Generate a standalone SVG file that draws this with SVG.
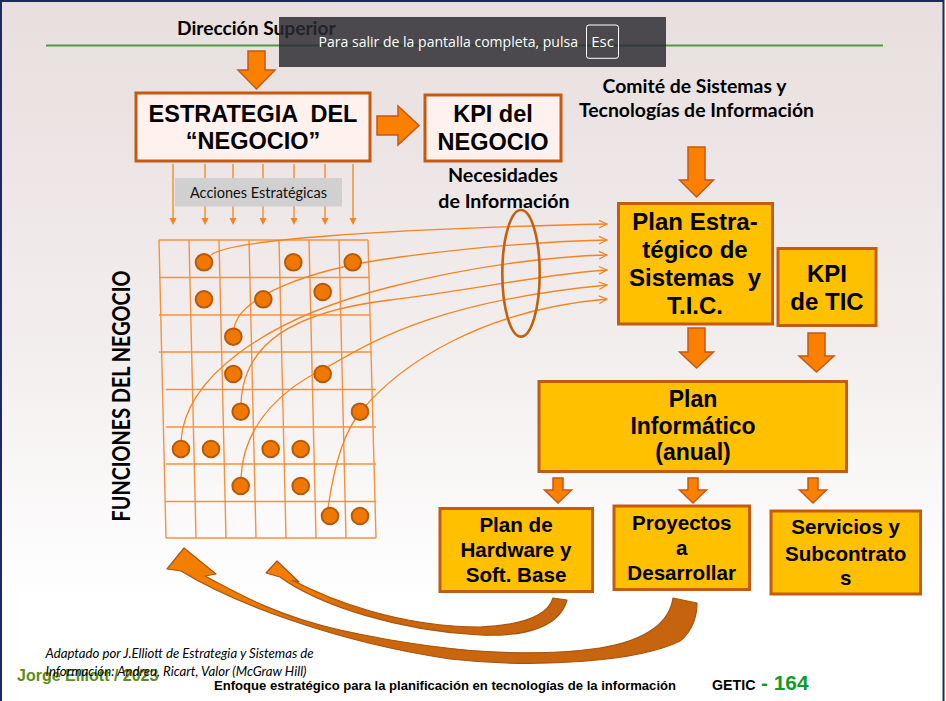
<svg xmlns="http://www.w3.org/2000/svg" width="946" height="701" viewBox="0 0 946 701">
  <defs>
    <linearGradient id="bg" x1="0" y1="0" x2="0" y2="1">
      <stop offset="0" stop-color="#e8dede"/>
      <stop offset="0.5" stop-color="#f3eeee"/>
      <stop offset="0.86" stop-color="#ffffff"/>
      <stop offset="1" stop-color="#ffffff"/>
    </linearGradient>
    <linearGradient id="sweep" x1="0" y1="0" x2="1" y2="0">
      <stop offset="0" stop-color="#f57f00"/>
      <stop offset="0.16" stop-color="#ee7a04"/>
      <stop offset="0.3" stop-color="#cc680e"/>
      <stop offset="1" stop-color="#c6630e"/>
    </linearGradient>
    <marker id="chev" markerUnits="userSpaceOnUse" markerWidth="12" markerHeight="12" refX="8" refY="4" orient="auto" overflow="visible">
      <path d="M0,0.2 L8,4 L0,7.8" fill="none" stroke="#f5841f" stroke-width="1.2"/>
    </marker>
    <marker id="tri" markerUnits="userSpaceOnUse" markerWidth="8" markerHeight="8" refX="0" refY="3.5" orient="auto" overflow="visible">
      <path d="M0,0 L7,3.5 L0,7 Z" fill="#f5841f"/>
    </marker>
    <style>
      .box { fill: #ffc000; stroke: #c55a11; stroke-width: 3; }
      .pale { fill: #fff1ee; stroke: #c55a11; stroke-width: 3; }
      .blk { fill: #fb8000; stroke: #c55a11; stroke-width: 1.5; stroke-linejoin: miter; }
      .bt { font-family: "Liberation Sans", Arial, sans-serif; font-weight: bold; fill: #000; text-anchor: middle; white-space: pre; }
      .lbl { font-family: Lato, "Open Sans", sans-serif; font-weight: bold; fill: #000; text-anchor: middle; }
      .grid { fill: none; stroke: #f7913d; stroke-width: 1.4; }
      .dot { fill: #f07800; stroke: #b45a0a; stroke-width: 2; }
      .flow { fill: none; stroke: #f5841f; stroke-width: 1.3; marker-end: url(#chev); }
      .act { stroke: #f5841f; stroke-width: 1.3; marker-end: url(#tri); }
      .sweep { fill: url(#sweep); stroke: #a9540e; stroke-width: 1.2; stroke-linejoin: round; }
      .note { font-family: Lato, sans-serif; font-style: italic; font-size: 13.2px; fill: #000; }
    </style>
  </defs>

  <!-- page background and frame -->
  <rect x="0" y="0" width="944" height="701" fill="url(#bg)"/>
  <rect x="945" y="0" width="1" height="701" fill="#ffffff"/>
  <path d="M1,701 V1 H943.5 V701" fill="none" stroke="#1c2a5e" stroke-width="2"/>

  <!-- header -->
  <text x="177" y="34.5" font-family="Lato, sans-serif" font-weight="bold" font-size="19.2" fill="#000">Dirección Superior</text>
  <line x1="46" y1="45.5" x2="883" y2="45.5" stroke="#4e9a45" stroke-width="2"/>

  <!-- business strategy -->
  <g id="estrategia">
    <rect class="pale" x="136" y="93" width="234" height="68"/>
    <text class="bt" x="253" y="121.7" font-size="23.5">ESTRATEGIA  DEL</text>
    <text class="bt" x="253" y="148.5" font-size="23.5">“NEGOCIO”</text>
  </g>

  <g id="kpi-negocio">
    <rect class="pale" x="425" y="95" width="136" height="66"/>
    <text class="bt" x="493" y="122" font-size="23.5">KPI del</text>
    <text class="bt" x="493" y="150" font-size="23.5">NEGOCIO</text>
  </g>

  <g id="necesidades">
    <text class="lbl" x="503" y="181.7" font-size="19.6">Necesidades</text>
    <text class="lbl" x="504" y="208.3" font-size="19.6">de Información</text>
  </g>

  <g id="comite">
    <text class="lbl" x="694.5" y="93.3" font-size="19.4">Comité de Sistemas y</text>
    <text class="lbl" x="696.5" y="116.7" font-size="19.4">Tecnologías de Información</text>
  </g>

  <!-- strategic actions feeding the business functions -->
  <g id="acciones">
    <g>
      <line class="act" x1="173" y1="164" x2="173" y2="218"/>
      <line class="act" x1="205" y1="164" x2="205" y2="218"/>
      <line class="act" x1="233" y1="164" x2="233" y2="218"/>
      <line class="act" x1="263" y1="164" x2="263" y2="218"/>
      <line class="act" x1="294" y1="164" x2="294" y2="218"/>
      <line class="act" x1="325" y1="164" x2="325" y2="218"/>
      <line class="act" x1="353" y1="164" x2="353" y2="218"/>
    </g>
    <rect x="175" y="178" width="167" height="28.5" fill="#d0d0d0"/>
    <text x="258.5" y="198.3" font-family="Lato, sans-serif" font-size="14.5" fill="#111" text-anchor="middle">Acciones Estratégicas</text>
  </g>

  <!-- business functions matrix -->
  <g id="funciones">
    <text transform="translate(130,396) rotate(-90)" font-family="Lato, sans-serif" font-weight="bold" font-size="25" fill="#000" text-anchor="middle" textLength="251" lengthAdjust="spacingAndGlyphs">FUNCIONES DEL NEGOCIO</text>
    <path class="grid" d="M159,240 L166,538 M189,240 L196,538 M219,240 L226,538 M249,240 L256,538 M279,240 L286,538 M309,240 L316,538 M339,240 L346,538 M368,240 L376,538
      M159,240 H368 M159,277.5 H369 M159,315 H370 M159,352 H371
      M166,389.5 H376 M166,427 H376 M166,464 H376 M166,501.5 H376 M166,538 H376"/>
  </g>

  <!-- information flows towards the IT strategic plan -->
  <g id="connectors">
    <path class="flow" d="M211,255 C228,240 380,229 607,224"/>
    <path class="flow" d="M234,330 C236,300 300,270 400,257 S560,241 607,240"/>
    <path class="flow" d="M181,441 C185,380 260,320 390,287 C480,264 560,256 607,255"/>
    <path class="flow" d="M241,404 C243,345 290,312 390,300 C470,290 560,272 607,270"/>
    <path class="flow" d="M241,478 C243,420 290,385 322,370 C360,350 420,303 607,285"/>
    <path class="flow" d="M328,508 C335,460 345,430 362,410 C400,365 480,310 607,299"/>

    <!-- block arrows -->
    <polygon class="blk" points="248,51 265,51 265,70 275,70 256.5,89 238,70 248,70"/>
    <polygon class="blk" points="377,116 398,116 398,106 419,125.5 398,145 398,135 377,135"/>
    <polygon class="blk" points="688,147 705,147 705,180 713.5,180 696.5,197 679.5,180 688,180"/>
    <polygon class="blk" points="688,328 705,328 705,352 713.5,352 696.5,368 679.5,352 688,352"/>
    <polygon class="blk" points="808,333 825,333 825,356 834,356 816.5,372 799,356 808,356"/>
    <polygon class="blk" points="553,478 563,478 563,490 571.5,490 558,503 544.5,490 553,490"/>
    <polygon class="blk" points="688,478 698,478 698,490 706.5,490 693,503 679.5,490 688,490"/>
    <polygon class="blk" points="808,478 818,478 818,490 826.5,490 813,503 799.5,490 808,490"/>

    <!-- feedback sweeps back to the business functions -->
    <path class="sweep" d="M280,577 C320,606 400,631 480,635 C530,637 560,625 567,600 L553,598 C548,615 525,625 480,627 C400,627 330,600 292,580 L299,582 L277,561 L266,573 Z"/>
    <path class="sweep" d="M181,571 C230,601 330,641 450,659 C540,669 640,661 680,641 C693,631 697,615 697,603 L673,598 C670,620 650,640 600,648 C530,658 440,652 340,630 C280,617 240,595 205,576 L216,574 L184,548 L167,569 Z"/>
  </g>

  <!-- matrix cells holding activities -->
  <g id="actividades">
    <circle class="dot" cx="204" cy="262.3" r="8.3"/>
    <circle class="dot" cx="293.3" cy="262.3" r="8.3"/>
    <circle class="dot" cx="352.7" cy="262.3" r="8.3"/>
    <circle class="dot" cx="204" cy="299.3" r="8.3"/>
    <circle class="dot" cx="263.3" cy="299.3" r="8.3"/>
    <circle class="dot" cx="322.7" cy="292" r="8.3"/>
    <circle class="dot" cx="233.3" cy="336.7" r="8.3"/>
    <circle class="dot" cx="233.3" cy="374" r="8.3"/>
    <circle class="dot" cx="322.7" cy="374" r="8.3"/>
    <circle class="dot" cx="240.7" cy="411.7" r="8.3"/>
    <circle class="dot" cx="360" cy="411.7" r="8.3"/>
    <circle class="dot" cx="181" cy="449" r="8.3"/>
    <circle class="dot" cx="211" cy="449" r="8.3"/>
    <circle class="dot" cx="270.7" cy="449" r="8.3"/>
    <circle class="dot" cx="300.7" cy="449" r="8.3"/>
    <circle class="dot" cx="240.7" cy="486" r="8.3"/>
    <circle class="dot" cx="300.7" cy="486" r="8.3"/>
    <circle class="dot" cx="330" cy="516" r="8.3"/>
    <circle class="dot" cx="360" cy="516" r="8.3"/>
  </g>

  <ellipse id="agrupacion" cx="521" cy="273.3" rx="18.7" ry="63.3" fill="none" stroke="#c0620e" stroke-width="2.6"/>

  <!-- IT planning chain -->
  <g id="plan-estrategico">
    <rect class="box" x="618.5" y="203.5" width="154" height="120.5"/>
    <text class="bt" x="695" y="230" font-size="24">Plan Estra-</text>
    <text class="bt" x="695" y="258" font-size="24">tégico de</text>
    <text class="bt" x="695" y="285.5" font-size="24">Sistemas  y</text>
    <text class="bt" x="695" y="314" font-size="24">T.I.C.</text>
  </g>

  <g id="kpi-tic">
    <rect class="box" x="778" y="248.5" width="98" height="77"/>
    <text class="bt" x="827" y="282" font-size="24">KPI</text>
    <text class="bt" x="827" y="310" font-size="24">de TIC</text>
  </g>

  <g id="plan-informatico">
    <rect class="box" x="539" y="381.5" width="307.5" height="90"/>
    <text class="bt" x="693" y="406.7" font-size="23">Plan</text>
    <text class="bt" x="693" y="434" font-size="23">Informático</text>
    <text class="bt" x="693" y="460" font-size="23">(anual)</text>
  </g>

  <g id="plan-hardware">
    <rect class="box" x="440" y="508.5" width="152.5" height="83"/>
    <text class="bt" x="516" y="531.7" font-size="20.6">Plan de</text>
    <text class="bt" x="516" y="556.7" font-size="20.6">Hardware y</text>
    <text class="bt" x="516" y="581.7" font-size="20.6">Soft. Base</text>
  </g>

  <g id="proyectos">
    <rect class="box" x="614" y="506" width="135.5" height="83.5"/>
    <text class="bt" x="681.7" y="530" font-size="20.6">Proyectos</text>
    <text class="bt" x="681.7" y="555" font-size="20.6">a</text>
    <text class="bt" x="681.7" y="580" font-size="20.6">Desarrollar</text>
  </g>

  <g id="servicios">
    <rect class="box" x="771" y="511" width="149.5" height="83"/>
    <text class="bt" x="845.7" y="534" font-size="20.6">Servicios y</text>
    <text class="bt" x="845.7" y="560.5" font-size="20.6">Subcontrato</text>
    <text class="bt" x="845.7" y="585" font-size="20.6">s</text>
  </g>

  <!-- footer -->
  <g id="pie">
    <text class="note" x="45.5" y="658.3">Adaptado por J.Elliott de Estrategia y Sistemas de</text>
    <text x="17" y="680.5" font-family="'Liberation Sans', Arial, sans-serif" font-weight="bold" font-size="16" fill="#5a8c22">Jorge Elliott / 2023</text>
    <text class="note" x="45.5" y="676">Información: Andreu, Ricart, Valor  (McGraw Hill)</text>
    <text x="214" y="689.5" font-family="'Liberation Sans', Arial, sans-serif" font-weight="bold" font-size="12.5" fill="#000" textLength="462" lengthAdjust="spacingAndGlyphs">Enfoque estratégico para la planificación en tecnologías de la información</text>
    <text x="712" y="689.5" font-family="'Liberation Sans', Arial, sans-serif" font-weight="bold" font-size="14" fill="#000" textLength="43.5" lengthAdjust="spacingAndGlyphs">GETIC</text>
    <text x="761" y="689.5" font-family="'Liberation Sans', Arial, sans-serif" font-weight="bold" font-size="20" fill="#0f9a2c" textLength="47.5" lengthAdjust="spacingAndGlyphs">- 164</text>
  </g>

  <!-- full-screen notice overlay -->
  <g id="aviso">
    <rect x="279" y="17" width="387" height="50" fill="#2a2a2f" fill-opacity="0.83"/>
    <text x="318.5" y="47" font-family="'Open Sans', sans-serif" font-size="15" fill="#ffffff" textLength="259.5" lengthAdjust="spacingAndGlyphs">Para salir de la pantalla completa, pulsa</text>
    <rect x="586.5" y="25" width="32" height="33.3" rx="2.5" fill="none" stroke="#ffffff" stroke-width="1"/>
    <text x="602.5" y="47" font-family="'Open Sans', sans-serif" font-size="15" fill="#ffffff" text-anchor="middle">Esc</text>
  </g>
</svg>
